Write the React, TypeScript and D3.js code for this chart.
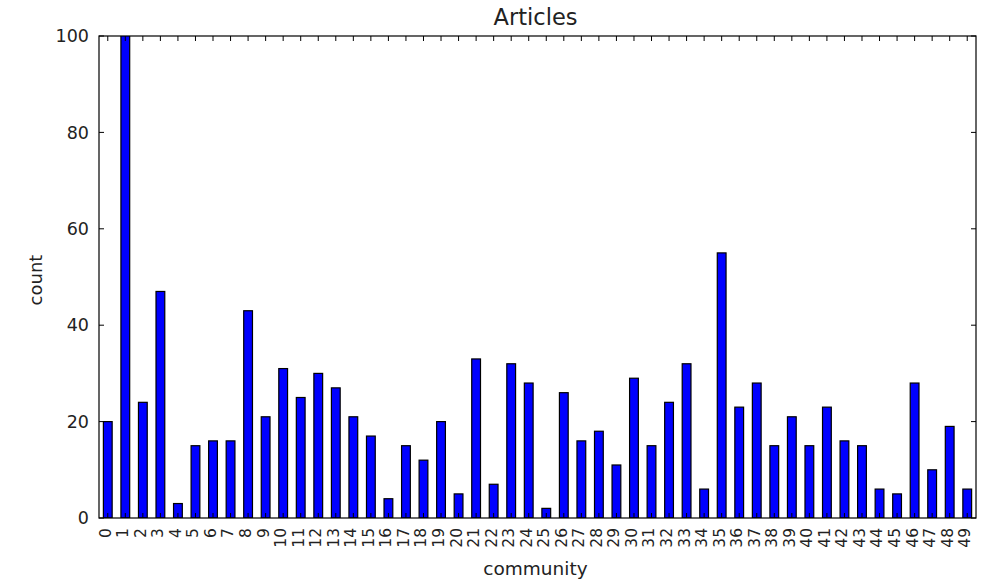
import * as d3 from "d3";

const categories: string[] = Array.from({ length: 50 }, (_, i) => String(i));
const counts: number[] = [
  20, 110, 24, 47, 3, 15, 16, 16, 43, 21,
  31, 25, 30, 27, 21, 17, 4, 15, 12, 20,
  5, 33, 7, 32, 28, 2, 26, 16, 18, 11,
  29, 15, 24, 32, 6, 55, 23, 28, 15, 21,
  15, 23, 16, 15, 6, 5, 28, 10, 19, 6,
];
const yTicks: number[] = [0, 20, 40, 60, 80, 100];

const W = 989;
const H = 586;
const margin = { top: 36, right: 13, bottom: 68, left: 99 };
const innerW = W - margin.left - margin.right;
const innerH = H - margin.top - margin.bottom;
const font = "'DejaVu Sans', sans-serif";

export default function App() {
  const x = d3.scaleBand<string>().domain(categories).range([0, innerW]).paddingInner(0.5).paddingOuter(0.25);
  const y = d3.scaleLinear().domain([0, 100]).range([innerH, 0]);
  const bw = x.bandwidth();

  return (
    <div style={{ position: "absolute", left: 0, top: 0 }}>
      <svg width={W} height={H} style={{ display: "block", background: "#fff" }}>
        <text x={margin.left + innerW / 2 - 2} y={25} textAnchor="middle" fontFamily={font} fontSize={22.5} fill="#222">
          Articles
        </text>
        <g transform={`translate(${margin.left},${margin.top})`}>
          <defs>
            <clipPath id="plotClip">
              <rect x={0} y={0} width={innerW} height={innerH} />
            </clipPath>
          </defs>
          <g clipPath="url(#plotClip)">
            {counts.map((v, i) => (
              <rect
                key={i}
                x={x(categories[i]) ?? 0}
                y={y(v)}
                width={bw}
                height={innerH - y(v)}
                fill="#0000ff"
                stroke="#000"
                strokeWidth={1.2}
              />
            ))}
          </g>
          {/* x ticks top & bottom, inside */}
          {categories.map((c) => {
            const cx = (x(c) ?? 0) + bw / 2;
            return (
              <g key={c}>
                <line x1={cx} x2={cx} y1={innerH} y2={innerH - 5} stroke="#000" strokeWidth={1} />
                <line x1={cx} x2={cx} y1={0} y2={5} stroke="#000" strokeWidth={1} />
                <text
                  transform={`translate(${cx - 2.5},${innerH + 10}) rotate(-90)`}
                  textAnchor="end"
                  dy="0.35em"
                  fontFamily={font}
                  fontSize={15.5}
                  fill="#222"
                >
                  {c}
                </text>
              </g>
            );
          })}
          {/* y ticks left & right, inside */}
          {yTicks.map((t) => (
            <g key={t}>
              <line x1={0} x2={5} y1={y(t)} y2={y(t)} stroke="#000" strokeWidth={1} />
              <line x1={innerW} x2={innerW - 5} y1={y(t)} y2={y(t)} stroke="#000" strokeWidth={1} />
              <text x={-10} y={y(t)} dy="0.35em" textAnchor="end" fontFamily={font} fontSize={17.5} fill="#222">
                {t}
              </text>
            </g>
          ))}
          <rect x={0} y={0} width={innerW} height={innerH} fill="none" stroke="#000" strokeWidth={1.2} />
          <text
            x={innerW / 2 - 2}
            y={innerH + 57}
            textAnchor="middle"
            fontFamily={font}
            fontSize={18.5}
            fill="#222"
          >
            community
          </text>
          <text
            transform={`translate(${-57},${innerH / 2 + 3}) rotate(-90)`}
            textAnchor="middle"
            fontFamily={font}
            fontSize={18}
            fill="#222"
          >
            count
          </text>
        </g>
      </svg>
    </div>
  );
}
